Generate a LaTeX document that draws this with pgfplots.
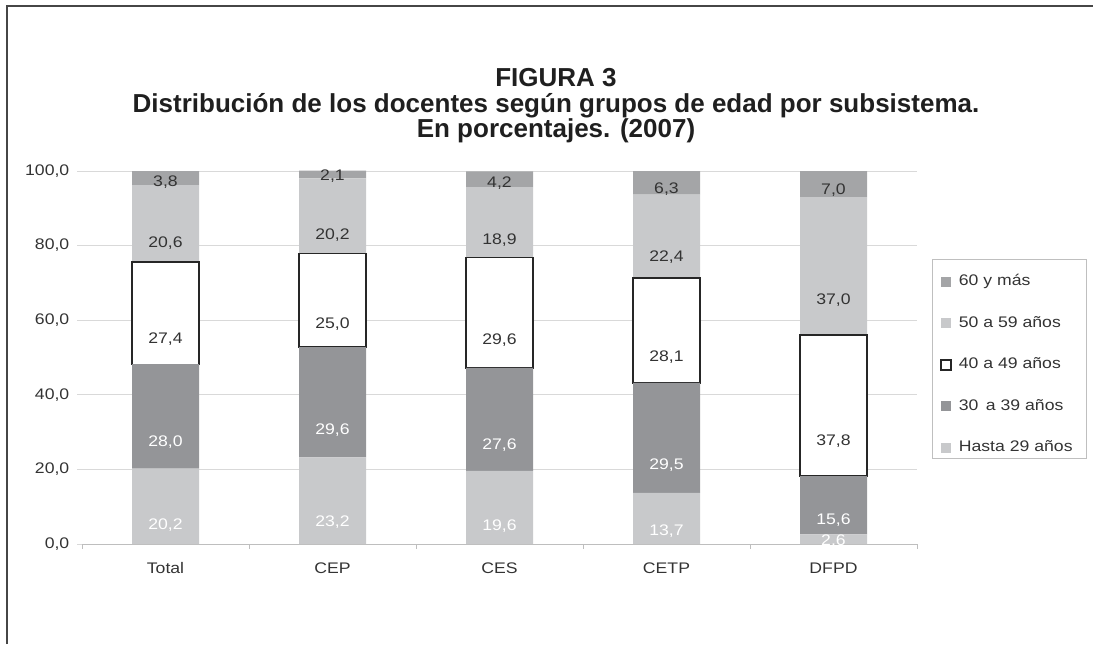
\documentclass[border=0pt]{standalone}
\usepackage{fontspec}
\setmainfont{Liberation Sans}[FakeStretch=1.15]
\newfontfamily\titlefam{Liberation Sans}
\usepackage{pgfplots}
\pgfplotsset{compat=1.18}

\definecolor{cLight}{RGB}{200,201,203}
\definecolor{cDark}{RGB}{148,149,152}
\definecolor{cTop}{RGB}{164,165,167}
\definecolor{cTxt}{RGB}{51,51,51}
\definecolor{cGrid}{RGB}{217,217,217}
\definecolor{cAxis}{RGB}{190,190,190}
\definecolor{cFrame}{RGB}{70,70,70}

\newcommand\tickfont{\fontsize{11.5}{13}\selectfont}

\pgfplotsset{
  midlabel/.style={
    point meta=rawy,
    nodes near coords={\pgfmathprintnumber[fixed,fixed zerofill,precision=1,use comma,assume math mode=true]{\pgfplotspointmeta}},
    every node near coord/.style={
      font=\tickfont, text=#1, anchor=center, inner sep=0pt,
      /utils/exec={\pgfkeys{/pgf/fpu=true,/pgf/fpu/output format=fixed}\pgfmathsetmacro\labshift{\pgfplotspointmeta*0.699375}\pgfkeys{/pgf/fpu=false}},
      yshift=-\labshift pt},
  },
  sqlegend/.style={legend image code/.code={\path[##1] (0pt,-3.75pt) rectangle (7.5pt,3.75pt);}},
}

\begin{document}
\begin{tikzpicture}[x=0.75pt,y=-0.75pt]
\useasboundingbox (0,0) rectangle (1093,644);
\draw[cFrame, line width=1.5pt] (7,644) -- (7,6) -- (1093,6);
\node[font=\titlefam\bfseries\fontsize{19.5}{23}\selectfont, text=black!88, anchor=base] at (556,86) {FIGURA 3};
\node[font=\titlefam\bfseries\fontsize{19.5}{23}\selectfont, text=black!88, anchor=base] at (556,112) {Distribución de los docentes según grupos de edad por subsistema.};
\node[font=\titlefam\bfseries\fontsize{19.5}{23}\selectfont, text=black!88, anchor=base] at (556,137) {En porcentajes. (2007)};
\coordinate (axSW) at (82,544);
\begin{axis}[
  at={(axSW)}, anchor=south west,
  scale only axis, width=626.25pt, height=280.03pt,
  xmin=-0.5, xmax=4.5, ymin=0, ymax=100.1,
  ybar stacked, bar width=50.25pt,
  axis x line*=bottom, axis y line*=left,
  y axis line style={draw=none},
  x axis line style={cAxis, line width=0.75pt},
  tick align=outside,
  major tick length=3.5pt,
  xtick={-0.5,0.5,1.5,2.5,3.5,4.5}, xticklabels={},
  xtick style={cAxis, line width=0.75pt},
  extra x ticks={0,1,2,3,4},
  extra x tick labels={Total,CEP,CES,CETP,DFPD},
  extra x tick style={major tick length=0pt, xtick style={draw=none},
    xticklabel style={anchor=base, yshift=-21.75pt}},
  xticklabel style={font=\tickfont, text=cTxt},
  ytick={0,20,40,60,80,100},
  ymajorgrids,
  major grid style={cGrid, line width=0.75pt},
  ytick style={cGrid, line width=0.75pt},
  yticklabel style={font=\tickfont, text=cTxt, xshift=-2.5pt,
    /pgf/number format/fixed, /pgf/number format/fixed zerofill,
    /pgf/number format/precision=1, /pgf/number format/use comma,
    /pgf/number format/assume math mode=true},
  legend style={at={(1.0275,0.7212)}, anchor=north west, draw=none, fill=none,
    font=\tickfont, text=cTxt, inner sep=0pt, row sep=20.6pt, column sep=5.5pt,
    nodes={inner sep=0pt, text height=8.2pt, text depth=2.3pt}},
  legend cell align=left,
  reverse legend,
]
\addplot[fill=cLight, draw=none, sqlegend, midlabel=white] coordinates {(0,20.2) (1,23.2) (2,19.6) (3,13.7) (4,2.6)};
\addplot[fill=cDark, draw=none, sqlegend, midlabel=white] coordinates {(0,28.0) (1,29.6) (2,27.6) (3,29.5) (4,15.6)};
\addplot[fill=white, draw=black!85, line width=1pt, sqlegend, midlabel=cTxt] coordinates {(0,27.4) (1,25.0) (2,29.6) (3,28.1) (4,37.8)};
\addplot[fill=cLight, draw=none, sqlegend, midlabel=cTxt] coordinates {(0,20.6) (1,20.2) (2,18.9) (3,22.4) (4,37.0)};
\addplot[fill=cTop, draw=none, sqlegend, midlabel=cTxt] coordinates {(0,3.8) (1,2.1) (2,4.2) (3,6.3) (4,7.0)};
\legend{Hasta 29 años,30\, a 39 años,40 a 49 años,50 a 59 años,60 y más}
\end{axis}
\draw[gray!50, line width=0.75pt] (932,259) rectangle (1086,458);
\end{tikzpicture}
\end{document}
